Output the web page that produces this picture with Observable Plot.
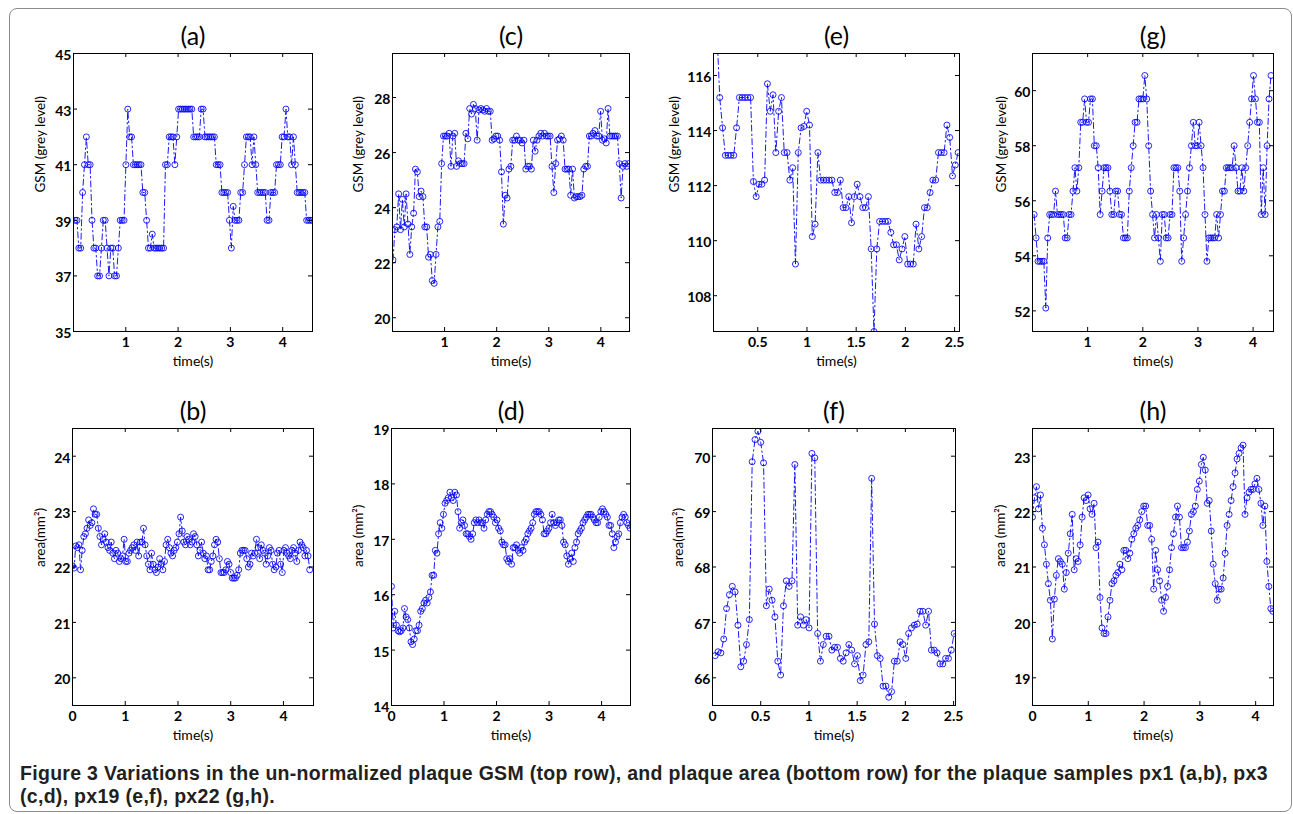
<!DOCTYPE html>
<html><head><meta charset="utf-8">
<script src="https://cdn.jsdelivr.net/npm/d3@7"></script>
<script src="https://cdn.jsdelivr.net/npm/@observablehq/plot@0.6"></script>
<style>
html,body{margin:0;padding:0;background:#fff}
body{width:1293px;height:814px;position:relative;overflow:hidden;font-family:Lato,sans-serif}
#border{position:absolute;left:9px;top:8px;width:1283px;height:804px;border:1px solid #8c8c8c;border-radius:8px;box-sizing:border-box}
.panel{position:absolute}
.panel svg{overflow:visible}
#caption{position:absolute;left:20px;top:762px;width:1265px;font-family:"Liberation Sans",Arial,sans-serif;font-weight:bold;font-size:19.5px;line-height:23px;letter-spacing:0.3px;color:#231f20;white-space:nowrap}
</style></head><body>
<div id="border"></div>
<div id="charts"></div>
<div id="caption">Figure 3 Variations in the un-normalized plaque GSM (top row), and plaque area (bottom row) for the plaque samples px1 (a,b), px3<br>(c,d), px19 (e,f), px22 (g,h).</div>
<script>
// ---- data: plaque GSM (top row) and plaque area (bottom row), one value per video frame ----
const gsmA = [39,39,38,38,40,41,42,41,41,39,38,38,37,37,38,39,39,38,37,38,38,37,37,38,39,39,39,41,
  43,42,42,41,41,41,41,41,40,40,39,38,38,38.5,38,38,38,38,38,38,41,41,42,42,42,41,42,
  43,43,43,43,43,43,43,43,42,42,42,42,43,43,42,42,42,42,42,42,41,41,41,40,40,40,40,39,38,
  39.5,39,39,39,40,40,41,42,42,42,41,42,41,40,40,40,40,40,39,39,40,40,40,41,41,41,42,42,43,42,42,41,42,41,40,40,40,40,40,39,39,39,39];
const areaB = [22.02,21.98,22.38,22.35,22.4,21.95,22.3,22.55,22.6,22.7,
  22.85,22.75,22.8,23.05,22.95,22.95,22.7,22.55,22.4,22.5,
  22.6,22.45,22.35,22.3,22.45,22.25,22.15,22.3,22.25,22.1,
  22.15,22.2,22.5,22.1,22.1,22.25,22.3,22.35,22.4,22.3,
  22.45,22.2,22.45,22.45,22.7,22.4,22.2,22.05,21.95,22.25,
  22.05,21.95,21.9,22.0,22.15,22.05,21.95,22.1,22.4,22.5,
  22.35,22.25,22.2,22.3,22.35,22.45,22.6,22.9,22.65,22.45,
  22.4,22.55,22.5,22.4,22.45,22.6,22.55,22.4,22.2,22.3,
  22.45,22.25,22.15,22.2,21.95,21.95,22.1,22.2,22.4,22.5,
  22.45,22.15,21.9,21.9,21.9,21.95,22.1,22.05,21.9,21.8,
  21.8,21.8,21.85,21.95,22.25,22.3,22.3,22.3,22.15,22.0,
  22.05,22.25,22.2,22.25,22.5,22.35,22.15,22.4,22.3,22.25,
  22.05,22.2,22.35,22.3,22.05,21.95,22.0,22.25,22.3,22.05,
  21.9,22.3,22.35,22.25,22.2,22.15,22.3,22.35,22.25,22.1,
  22.3,22.45,22.4,22.35,22.2,22.3,22.2,21.95];
const gsmC = [22.1,23.2,23.3,24.5,23.2,24.3,23.3,24.5,23.4,22.3,23.3,23.8,25.4,25.3,24.4,24.6,24.4,23.3,23.3,22.2,22.3,21.35,21.25,22.3,23.3,23.5,
  25.6,26.6,26.6,26.6,26.7,25.5,26.6,26.7,25.5,25.7,25.6,25.6,25.6,26.7,26.5,27.6,27.4,27.75,27.6,26.45,27.55,27.6,27.55,27.5,27.6,27.5,27.5,26.45,26.5,26.6,26.6,26.45,25.3,
  23.4,
  24.45,24.35,25.4,25.5,26.45,26.45,26.6,26.45,26.45,26.35,26.45,25.4,25.5,25.5,25.4,26.45,26.05,26.45,26.6,26.7,26.6,26.7,26.6,26.6,26.6,25.5,
  24.55,
  25.6,26.45,26.5,26.6,26.45,25.4,25.4,25.4,24.45,25.4,24.35,24.4,24.4,24.4,24.45,25.4,25.5,25.5,26.6,26.6,26.7,26.8,26.6,26.6,27.5,26.45,26.5,26.35,27.6,26.6,26.6,26.6,26.6,26.6,
  25.6,24.35,25.5,25.6,25.5,25.6];
const areaD = [16.15,15.4,15.7,15.45,15.35,15.33,15.35,15.4,15.75,15.6,
  15.55,15.4,15.15,15.1,15.2,15.35,15.35,15.45,15.7,15.75,
  15.85,15.9,15.85,15.95,16.05,16.35,16.35,16.8,16.75,17.1,
  17.3,17.2,17.45,17.65,17.7,17.75,17.85,17.75,17.7,17.85,
  17.8,17.5,17.2,17.3,17.35,17.25,17.1,17.1,17.05,17.0,
  17.1,17.3,17.35,17.3,17.35,17.3,17.3,17.2,17.35,17.45,
  17.5,17.5,17.45,17.4,17.3,17.35,17.2,17.15,16.95,16.9,
  16.9,16.65,16.6,16.65,16.55,16.85,16.85,16.9,16.8,16.75,
  16.85,16.8,16.95,17.0,17.1,17.15,17.2,17.3,17.45,17.5,
  17.5,17.5,17.45,17.35,17.1,17.1,17.15,17.2,17.3,17.45,
  17.3,17.25,17.3,17.35,17.35,17.25,16.95,16.9,16.7,16.55,
  16.65,16.75,16.6,16.85,16.95,17.1,17.15,17.2,17.3,17.35,
  17.4,17.45,17.45,17.45,17.4,17.35,17.3,17.3,17.4,17.5,
  17.55,17.5,17.45,17.4,17.25,17.25,17.1,16.85,16.95,17.05,
  17.1,17.3,17.4,17.45,17.4,17.3,17.25,17.2];
const gsmE = [117.6,115.2,114.1,113.1,113.1,113.1,113.1,114.1,115.2,115.2,
  115.2,115.2,115.2,112.15,111.6,112.05,112.05,112.2,115.7,114.7,
  115.3,113.2,114.7,115.2,113.2,113.2,112.2,112.65,109.15,113.2,
  114.1,114.15,114.7,114.2,110.15,110.6,113.2,112.2,112.2,112.2,
  112.2,112.2,111.75,111.75,112.2,111.2,111.2,111.6,110.65,111.6,
  112.05,111.6,111.2,111.2,111.6,109.7,106.7,109.7,110.7,110.7,
  110.7,110.7,110.3,109.85,109.85,109.3,109.7,110.15,109.15,109.15,
  109.15,110.6,109.7,110.15,111.2,111.2,111.75,112.2,112.2,113.2,
  113.2,113.2,114.2,113.75,112.35,112.75,113.2];
const areaF = [66.4,66.47,66.45,66.7,67.25,67.5,67.65,67.55,66.95,66.2,
  66.3,66.6,67.05,69.9,70.3,70.45,70.25,69.88,67.3,67.6,
  67.4,67.1,66.3,66.05,67.3,67.75,67.65,67.75,69.85,66.95,
  67.1,66.95,67.05,66.9,70.05,69.97,66.8,66.3,66.6,66.75,
  66.75,66.5,66.55,66.55,66.35,66.3,66.45,66.6,66.5,66.25,
  66.4,65.95,66.05,66.6,66.65,69.6,66.97,66.4,66.35,65.85,
  65.85,65.65,65.75,66.3,66.3,66.65,66.6,66.35,66.8,66.9,
  66.95,66.97,67.2,67.2,66.95,67.2,66.5,66.5,66.45,66.25,
  66.25,66.35,66.35,66.5,66.8];
const gsmG = [55.5,54.65,53.8,53.8,53.8,53.8,52.1,54.65,55.5,55.5,
  55.5,56.35,55.5,55.5,55.5,55.5,54.65,54.65,55.5,55.5,
  56.35,57.2,56.35,57.2,58.85,58.85,59.7,58.85,58.85,59.7,
  59.7,58.0,58.0,57.2,55.5,56.35,57.2,57.2,57.2,56.35,
  55.5,55.5,56.35,56.35,55.5,55.5,54.65,54.65,54.65,56.35,
  57.2,58.0,58.85,58.85,59.7,59.7,59.7,60.55,59.7,58.0,
  56.35,55.5,54.65,55.5,54.65,53.8,55.5,55.5,54.65,54.65,
  55.5,55.5,57.2,57.2,57.2,56.35,53.8,54.65,55.5,56.35,
  57.2,58.0,58.85,58.0,58.0,58.85,58.0,57.2,55.5,53.8,
  54.65,54.65,54.65,54.65,55.5,54.65,55.5,56.35,56.35,57.2,
  57.2,57.2,57.2,58.0,57.2,56.35,56.35,57.2,56.35,57.2,
  58.0,58.85,59.7,60.55,59.7,58.85,58.85,55.5,57.2,55.5,
  58.0,59.7,60.55];
const areaH = [21.9,22.25,22.45,22.05,22.3,21.7,21.4,21.05,20.7,20.4,
  19.7,20.42,20.85,21.15,21.1,21.05,20.6,20.9,21.25,21.6,
  21.95,20.95,21.15,21.1,21.4,21.9,22.25,22.2,22.3,22.05,
  21.95,22.15,21.35,21.45,20.45,19.9,19.8,19.8,20.1,20.4,
  20.7,20.75,20.85,20.9,21.05,20.95,21.3,21.3,21.15,21.25,
  21.5,21.6,21.7,21.75,21.85,22.0,22.1,22.1,21.75,21.75,
  21.5,20.6,21.3,20.95,20.75,20.4,20.2,20.45,20.65,20.95,
  21.35,21.6,21.9,22.1,21.9,21.35,21.35,21.35,21.45,21.65,
  21.95,22.0,22.1,22.4,22.55,22.85,22.98,22.75,22.15,22.2,
  21.65,21.05,20.7,20.4,20.6,20.6,20.8,21.25,21.75,21.95,
  22.2,22.45,22.7,22.95,23.05,23.15,23.2,21.95,22.25,22.35,
  22.4,22.4,22.5,22.6,22.4,22.15,21.75,22.1,21.1,20.65,
  20.25,20.2];

// time of first frame and frame interval (s) for each clip
const firstFrame = [0.03, 0.0, 0.01, 0.0, 0.085, 0.028, 0.03, 0.0];
const frameInterval = [0.036, 0.0306, 0.0359, 0.0309, 0.0285, 0.0295, 0.0352, 0.0356];

// axis settings
const titles = ["(a)","(b)","(c)","(d)","(e)","(f)","(g)","(h)"];
const yLabels = ["GSM (grey level)","area(mm²)","GSM (grey level)","area (mm²)","GSM (grey level)","area(mm²)","GSM (grey level)","area (mm²)"];
const xDomains = [[0,4.57],[0,4.57],[0,4.55],[0,4.55],[0.05,2.55],[0,2.52],[0,4.37],[0,4.32]];
const yDomains = [[35,45],[19.5,24.5],[19.5,29.6],[14,19],[106.7,116.8],[65.5,70.5],[51.25,61.35],[18.5,23.5]];
const xTickSets = [[1,2,3,4],[0,1,2,3,4],[1,2,3,4],[0,1,2,3,4],[0.5,1,1.5,2,2.5],[0,0.5,1,1.5,2,2.5],[1,2,3,4],[0,1,2,3,4]];
const yTickSets = [[35,37,39,41,43,45],[20,21,22,23,24],[20,22,24,26,28],[14,15,16,17,18,19],[108,110,112,114,116],[66,67,68,69,70],[52,54,56,58,60],[19,20,21,22,23]];
const seriesList = [gsmA, areaB, gsmC, areaD, gsmE, areaF, gsmG, areaH];

// layout (frame boxes in page pixels)
const frameLeft = [73,72,392,391,713,712,1032,1032];
const frameRight = [312,313,629,630,959,955,1273,1273];
const frameTop = [53,428,53,428,53,428,53,428];
const frameBottom = [331,705,331,705,331,705,331,705];
const yLabelOffset = [-33,-32,-34,-33,-39,-34,-31,-32];

const ML = 70, MR = 10, MT = 45, MB = 48;
const BLUE = "#0000ff";
const charts = document.getElementById("charts");

seriesList.forEach((vals, k) => {
  const fw = frameRight[k] - frameLeft[k];
  const fh = frameBottom[k] - frameTop[k];
  const data = vals.map((v, i) => ({t: firstFrame[k] + i * frameInterval[k], v}));
  const fmt = d => String(d);
  const chart = Plot.plot({
    width: ML + fw + MR,
    height: MT + fh + MB,
    marginLeft: ML, marginRight: MR, marginTop: MT, marginBottom: MB,
    style: {fontFamily: "Lato, sans-serif", fontSize: "12px", color: "#000", background: "transparent", overflow: "visible"},
    x: {domain: xDomains[k]},
    y: {domain: yDomains[k]},
    marks: [
      Plot.line(data, {x: "t", y: "v", stroke: BLUE, strokeWidth: 0.9, strokeDasharray: "6,3,1.5,3", clip: true}),
      Plot.dot(data, {x: "t", y: "v", r: 3, stroke: BLUE, strokeWidth: 0.85, fill: "none", clip: true}),
      Plot.frame({stroke: "#000", strokeWidth: 1}),
      // inward tick marks on all four sides
      Plot.tickY(yTickSets[k], {y: d => d, insetRight: fw - 4, stroke: "#000"}),
      Plot.tickY(yTickSets[k], {y: d => d, insetLeft: fw - 4, stroke: "#000"}),
      Plot.tickX(xTickSets[k], {x: d => d, insetTop: fh - 4, stroke: "#000"}),
      Plot.tickX(xTickSets[k], {x: d => d, insetBottom: fh - 4, stroke: "#000"}),
      Plot.axisY(yTickSets[k], {anchor: "left", tickSize: 0, tickPadding: 2, dy: 2, tickFormat: fmt, label: null, fontWeight: "bold", fontSize: 14}),
      Plot.axisX(xTickSets[k], {anchor: "bottom", tickSize: 0, tickPadding: 6, tickFormat: fmt, label: null, fontWeight: "bold", fontSize: 14}),
      Plot.text([titles[k]], {frameAnchor: "top", lineAnchor: "middle", dy: -17, fontSize: 25, fill: "#000"}),
      Plot.text([yLabels[k]], {frameAnchor: "left", lineAnchor: "middle", rotate: -90, dx: yLabelOffset[k], fontSize: 13.5, fill: "#000"}),
      Plot.text(["time(s)"], {frameAnchor: "bottom", lineAnchor: "middle", dy: 30, fontSize: 14, fill: "#000"})
    ]
  });
  const div = document.createElement("div");
  div.className = "panel";
  div.style.left = (frameLeft[k] - ML) + "px";
  div.style.top = (frameTop[k] - MT) + "px";
  div.appendChild(chart);
  charts.appendChild(div);
});
</script>
</body></html>
